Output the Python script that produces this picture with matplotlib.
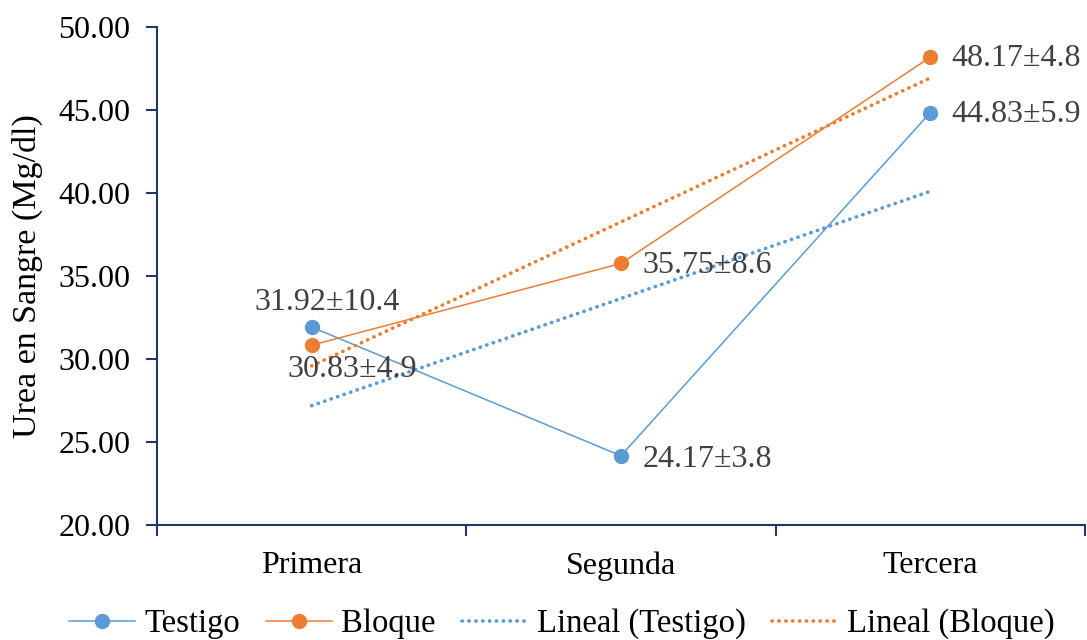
import matplotlib.pyplot as plt
import numpy as np

plt.rcParams['font.family'] = ['Liberation Serif', 'DejaVu Serif']

categories = ["Primera", "Segunda", "Tercera"]
testigo = [31.92, 24.17, 44.83]
bloque = [30.83, 35.75, 48.17]
testigo_sd = [10.4, 3.8, 5.9]
bloque_sd = [4.9, 8.6, 4.8]

blue = '#5B9BD5'
orange = '#ED7D31'
axis_col = '#1F3864'
lbl_col = '#404040'

x = np.arange(len(categories))

fig = plt.figure(figsize=(10.87, 6.4), dpi=100)
ax = fig.add_axes([0.1444, 0.1797, 0.8536, 0.7783])

ax.plot(x, testigo, color=blue, lw=1.1, marker='o', ms=10, label="Testigo")
ax.plot(x, bloque, color=orange, lw=1.1, marker='o', ms=10, label="Bloque")

# lineas de tendencia
for vals, col, name in [(testigo, blue, "Lineal (Testigo)"), (bloque, orange, "Lineal (Bloque)")]:
    m, b = np.polyfit(x, vals, 1)
    ax.plot(x, m * x + b, color=col, lw=2.6, ls=(0, (0.1, 1.8)), dash_capstyle='round', label=name)

# etiquetas de datos
fs = 23
offsets_t = [(0.05, 0.6, 'center', 'bottom'), (0.07, -0.2, 'left', 'center'), (0.07, -0.1, 'left', 'center')]
offsets_b = [(0.13, -0.6, 'center', 'top'), (0.07, -0.1, 'left', 'center'), (0.07, -0.1, 'left', 'center')]
for i in range(len(categories)):
    dx, dy, ha, va = offsets_t[i]
    ax.text(x[i] + dx, testigo[i] + dy, f"{testigo[i]:.2f}±{testigo_sd[i]}", color=lbl_col,
            fontsize=fs, ha=ha, va=va)
    dx, dy, ha, va = offsets_b[i]
    ax.text(x[i] + dx, bloque[i] + dy, f"{bloque[i]:.2f}±{bloque_sd[i]}", color=lbl_col,
            fontsize=fs, ha=ha, va=va)

ax.set_xlim(-0.5, 2.5)
ax.set_ylim(20, 50)
ax.set_yticks(np.arange(20, 51, 5))
ax.set_yticklabels([f"{v:.2f}" for v in np.arange(20, 51, 5)])
ax.set_xticks([-0.5, 0.5, 1.5, 2.5])
ax.set_xticklabels([])
ax.set_xticks(x, minor=True)
ax.set_xticklabels(categories, minor=True)
ax.tick_params(axis='x', which='minor', length=0, pad=19, labelsize=fs)
ax.tick_params(axis='x', which='major', length=8, width=1.5, color=axis_col, direction='out')
ax.tick_params(axis='y', length=8, width=1.5, color=axis_col, direction='out', labelsize=fs, pad=11)

for s in ['top', 'right']:
    ax.spines[s].set_visible(False)
for s in ['left', 'bottom']:
    ax.spines[s].set_color(axis_col)
    ax.spines[s].set_linewidth(1.5)

ax.set_ylabel("Urea en Sangre (Mg/dl)", fontsize=24.5, labelpad=11)

fig.legend(loc='lower center', bbox_to_anchor=(0.517, -0.045), ncol=4, frameon=False,
           fontsize=23.5, handlelength=2.0, columnspacing=0.8, handletextpad=0.3)

fig.savefig("out.png", dpi=100)
